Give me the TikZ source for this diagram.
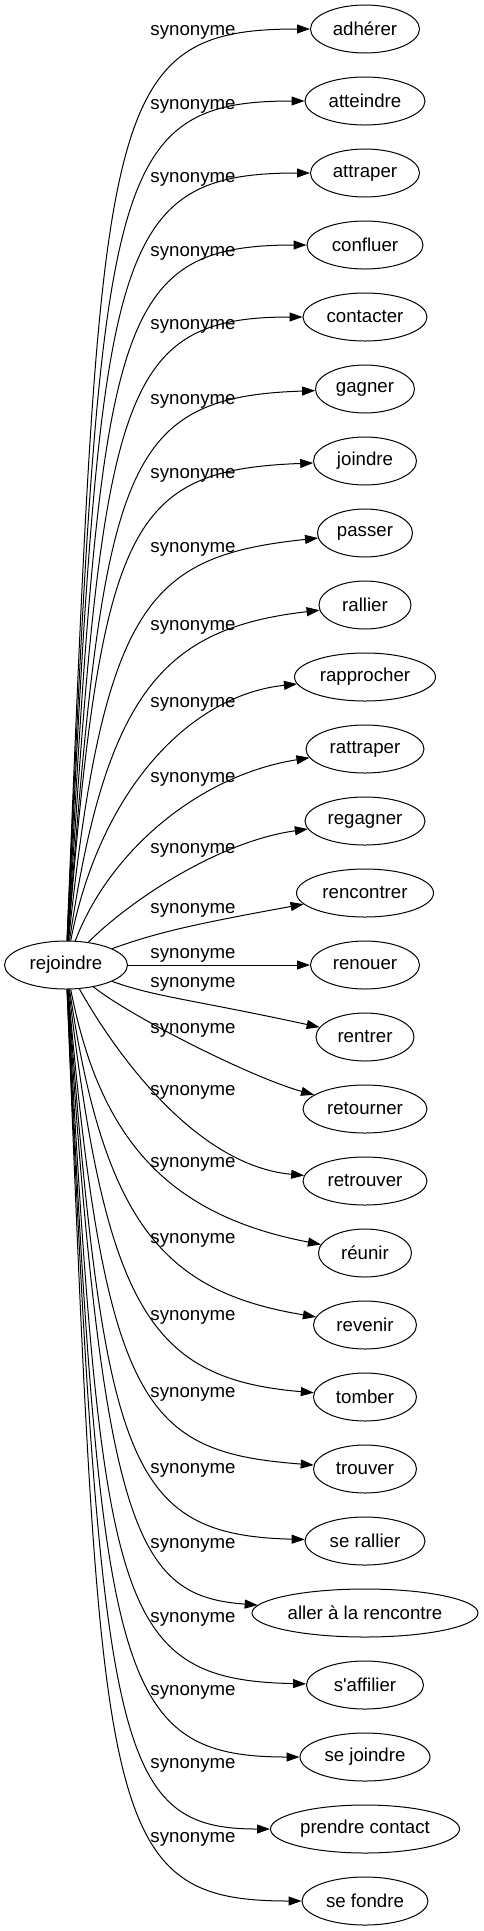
\documentclass[tikz,border=0pt]{standalone}
\usepackage{fontspec}
\setmainfont{Liberation Sans}
\usetikzlibrary{shapes.geometric,arrows.meta}
\newcommand{\gvsize}{\fontsize{18.67pt}{22pt}\selectfont}
\tikzset{
  lemme/.style={draw, ellipse, inner sep=0pt, minimum height=48pt, font=\gvsize, line width=1pt},
  synlab/.style={anchor=base, inner sep=0pt, font=\gvsize},
  syn/.style={-{Triangle[length=13pt,width=9pt]}, line width=1pt}
}
\begin{document}
\begin{tikzpicture}[x=1pt,y=-1pt]
\useasboundingbox (0,0) rectangle (483,1931);
% mot central
\node[lemme, minimum width=123pt] (rejoindre) at (66,965) {rejoindre};
% synonymes
\node[lemme, minimum width=109pt] (adherer) at (365,29) {adhérer};
\node[lemme, minimum width=120pt] (atteindre) at (365,101) {atteindre};
\node[lemme, minimum width=109pt] (attraper) at (365,173) {attraper};
\node[lemme, minimum width=116pt] (confluer) at (365,245) {confluer};
\node[lemme, minimum width=124pt] (contacter) at (365,317) {contacter};
\node[lemme, minimum width=99pt] (gagner) at (365,389) {gagner};
\node[lemme, minimum width=103pt] (joindre) at (365,461) {joindre};
\node[lemme, minimum width=95pt] (passer) at (365,533) {passer};
\node[lemme, minimum width=92pt] (rallier) at (365,605) {rallier};
\node[lemme, minimum width=141pt] (rapprocher) at (365,677) {rapprocher};
\node[lemme, minimum width=118pt] (rattraper) at (365,749) {rattraper};
\node[lemme, minimum width=120pt] (regagner) at (365,821) {regagner};
\node[lemme, minimum width=137pt] (rencontrer) at (365,893) {rencontrer};
\node[lemme, minimum width=109pt] (renouer) at (365,965) {renouer};
\node[lemme, minimum width=98pt] (rentrer) at (365,1037) {rentrer};
\node[lemme, minimum width=124pt] (retourner) at (365,1109) {retourner};
\node[lemme, minimum width=124pt] (retrouver) at (365,1181) {retrouver};
\node[lemme, minimum width=93pt] (reunir) at (365,1253) {réunir};
\node[lemme, minimum width=103pt] (revenir) at (365,1325) {revenir};
\node[lemme, minimum width=103pt] (tomber) at (365,1397) {tomber};
\node[lemme, minimum width=103pt] (trouver) at (365,1469) {trouver};
\node[lemme, minimum width=120pt] (serallier) at (365,1541) {se rallier};
\node[lemme, minimum width=226pt] (allerrencontre) at (365,1613) {aller à la rencontre};
\node[lemme, minimum width=117pt] (saffilier) at (365,1685) {s\textquotesingle affilier};
\node[lemme, minimum width=130pt] (sejoindre) at (365,1757) {se joindre};
\node[lemme, minimum width=189pt] (prendrecontact) at (365,1829) {prendre contact};
\node[lemme, minimum width=126pt] (sefondre) at (365,1901) {se fondre};
% etiquettes
\node[synlab] (syn-adherer) at (193,35) {synonyme};
\node[synlab] (syn-atteindre) at (193,109) {synonyme};
\node[synlab] (syn-attraper) at (193,182) {synonyme};
\node[synlab] (syn-confluer) at (193,256) {synonyme};
\node[synlab] (syn-contacter) at (193,329) {synonyme};
\node[synlab] (syn-gagner) at (193,404) {synonyme};
\node[synlab] (syn-joindre) at (193,478) {synonyme};
\node[synlab] (syn-passer) at (193,552) {synonyme};
\node[synlab] (syn-rallier) at (193,630) {synonyme};
\node[synlab] (syn-rapprocher) at (193,707) {synonyme};
\node[synlab] (syn-rattraper) at (193,782) {synonyme};
\node[synlab] (syn-regagner) at (193,853) {synonyme};
\node[synlab] (syn-rencontrer) at (193,913) {synonyme};
\node[synlab] (syn-renouer) at (193,958) {synonyme};
\node[synlab] (syn-rentrer) at (193,987) {synonyme};
\node[synlab] (syn-retourner) at (193,1033) {synonyme};
\node[synlab] (syn-retrouver) at (193,1095) {synonyme};
\node[synlab] (syn-reunir) at (193,1167) {synonyme};
\node[synlab] (syn-revenir) at (193,1243) {synonyme};
\node[synlab] (syn-tomber) at (193,1320) {synonyme};
\node[synlab] (syn-trouver) at (193,1397) {synonyme};
\node[synlab] (syn-serallier) at (193,1473) {synonyme};
\node[synlab] (syn-allerrencontre) at (193,1548) {synonyme};
\node[synlab] (syn-saffilier) at (193,1622) {synonyme};
\node[synlab] (syn-sejoindre) at (193,1695) {synonyme};
\node[synlab] (syn-prendrecontact) at (193,1768) {synonyme};
\node[synlab] (syn-sefondre) at (193,1842) {synonyme};
% aretes
\draw[syn] (rejoindre) .. controls (101,111) and (100,29) .. (adherer);
\draw[syn] (rejoindre) .. controls (101,182) and (106,101) .. (atteindre);
\draw[syn] (rejoindre) .. controls (101,254) and (108,173) .. (attraper);
\draw[syn] (rejoindre) .. controls (102,325) and (112,245) .. (confluer);
\draw[syn] (rejoindre) .. controls (103,396) and (118,317) .. (contacter);
\draw[syn] (rejoindre) .. controls (104,467) and (121,397) .. (gagner);
\draw[syn] (rejoindre) .. controls (102,525) and (128,470) .. (joindre);
\draw[syn] (rejoindre) .. controls (104,600) and (150,556) .. (passer);
\draw[syn] (rejoindre) .. controls (106,690) and (165,628) .. (rallier);
\draw[syn] (rejoindre) .. controls (100,790) and (190,695) .. (rapprocher);
\draw[syn] (rejoindre) .. controls (110,850) and (200,775) .. (rattraper);
\draw[syn] (rejoindre) .. controls (125,905) and (215,842) .. (regagner);
\draw[syn] (rejoindre) .. controls (156,933) and (189,925) .. (rencontrer);
\draw[syn] (rejoindre) -- (renouer);
\draw[syn] (rejoindre) .. controls (156,997) and (189,999) .. (rentrer);
\draw[syn] (rejoindre) .. controls (130,1016) and (250,1077) .. (retourner);
\draw[syn] (rejoindre) .. controls (108,1040) and (190,1165) .. (retrouver);
\draw[syn] (rejoindre) .. controls (100,1140) and (168,1215) .. (reunir);
\draw[syn] (rejoindre) .. controls (104,1225) and (165,1292) .. (revenir);
\draw[syn] (rejoindre) .. controls (106,1310) and (151,1379) .. (tomber);
\draw[syn] (rejoindre) .. controls (105,1410) and (145,1452) .. (trouver);
\draw[syn] (rejoindre) .. controls (104,1463) and (127,1535) .. (serallier);
\draw[syn] (rejoindre) .. controls (103,1534) and (136,1596) .. (allerrencontre);
\draw[syn] (rejoindre) .. controls (102,1605) and (114,1680) .. (saffilier);
\draw[syn] (rejoindre) .. controls (101,1676) and (114,1757) .. (sejoindre);
\draw[syn] (rejoindre) .. controls (101,1748) and (114,1829) .. (prendrecontact);
\draw[syn] (rejoindre) .. controls (101,1819) and (100,1901) .. (sefondre);
\end{tikzpicture}
\end{document}
